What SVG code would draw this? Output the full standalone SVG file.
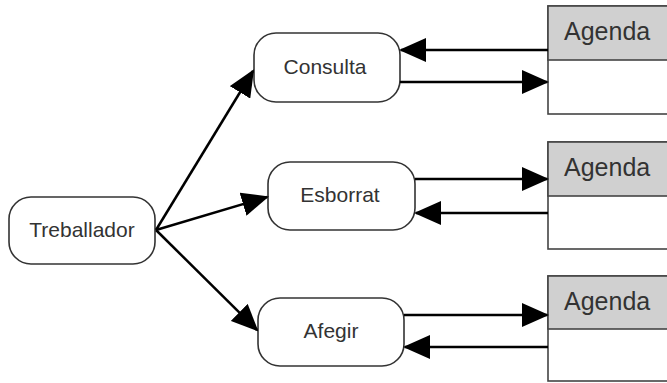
<svg xmlns="http://www.w3.org/2000/svg" width="667" height="383" viewBox="0 0 667 383">
<defs>
<marker id="ah" viewBox="0 0 27 24" refX="25" refY="12" markerWidth="27" markerHeight="24" markerUnits="userSpaceOnUse" orient="auto">
<path d="M0,0 L27,12 L0,24 z" fill="#000"/>
</marker>
</defs>
<style>
.node rect.r{fill:#fff;stroke:#333;stroke-width:1.6}
.lbl{font-family:"Liberation Sans",Arial,sans-serif;font-size:21px;fill:#333;text-anchor:middle}
.ag{font-family:"Liberation Sans",Arial,sans-serif;font-size:25px;fill:#333}
.hdr{fill:#d0d0d0;stroke:#444;stroke-width:1.6}
.body{fill:#fff;stroke:#444;stroke-width:1.6}
.c line{stroke:#000;stroke-width:2.5;marker-end:url(#ah)}
</style>
<rect width="667" height="383" fill="#fff"/>
<g id="treballador" class="node">
<rect class="r" x="9" y="197" width="146" height="67" rx="22"/>
<text class="lbl" x="82" y="237">Treballador</text>
</g>
<g id="consulta" class="node">
<rect class="r" x="254" y="33" width="146" height="69" rx="22"/>
<text class="lbl" x="325" y="74">Consulta</text>
</g>
<g id="esborrat" class="node">
<rect class="r" x="268" y="162" width="147" height="68" rx="22"/>
<text class="lbl" x="340" y="202">Esborrat</text>
</g>
<g id="afegir" class="node">
<rect class="r" x="258" y="298" width="146" height="68" rx="22"/>
<text class="lbl" x="331" y="338">Afegir</text>
</g>
<g id="agenda1" class="node">
<rect class="body" x="548" y="6" width="130" height="108"/>
<rect class="hdr" x="548" y="6" width="130" height="54"/>
<text class="ag" x="564" y="40">Agenda</text>
</g>
<g id="agenda2" class="node">
<rect class="body" x="548" y="142" width="130" height="107"/>
<rect class="hdr" x="548" y="142" width="130" height="54"/>
<text class="ag" x="564" y="176">Agenda</text>
</g>
<g id="agenda3" class="node">
<rect class="body" x="548" y="276" width="130" height="105"/>
<rect class="hdr" x="548" y="276" width="130" height="53"/>
<text class="ag" x="564" y="310">Agenda</text>
</g>
<g id="connectors" class="c">
<line x1="156" y1="230" x2="253" y2="71"/>
<line x1="156" y1="230" x2="267" y2="197"/>
<line x1="156" y1="230" x2="257" y2="330"/>
<line x1="548" y1="50" x2="401" y2="50"/>
<line x1="400" y1="82" x2="547" y2="82"/>
<line x1="415" y1="179" x2="547" y2="179"/>
<line x1="548" y1="213" x2="416" y2="213"/>
<line x1="404" y1="315" x2="547" y2="315"/>
<line x1="548" y1="347" x2="405" y2="347"/>
</g>
</svg>
